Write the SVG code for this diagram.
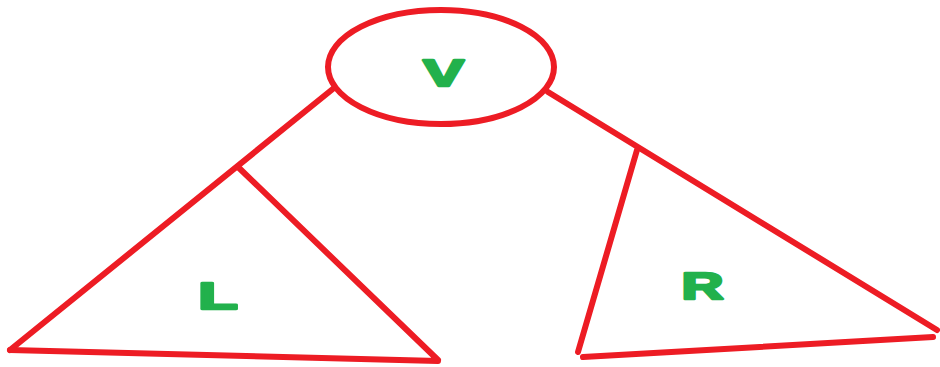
<svg xmlns="http://www.w3.org/2000/svg" width="940" height="367" viewBox="0 0 940 367">
<style>
.s{fill:none;stroke:#ED1C24;stroke-width:6;stroke-linecap:round;stroke-linejoin:round}
.t{font-family:"Liberation Sans",Arial,sans-serif;font-weight:bold;font-size:37px;fill:#22B14C;stroke:#22B14C;stroke-width:2.5;stroke-linejoin:round;text-anchor:middle}
</style>
<rect width="940" height="367" fill="#fff"/>
<g id="connectors">
<path class="s" d="M334,88 L10,350"/>
<path class="s" d="M548,92 L937,330"/>
</g>
<g id="V">
<ellipse class="s" cx="441" cy="67" rx="113" ry="57" stroke-width="7"/>
<text class="t" transform="translate(443.5,85.5) scale(1.65,1)">V</text>
</g>
<g id="L">
<path class="s" d="M238,167 L438,360 M10,350 L438,361"/>
<text class="t" transform="translate(218,308.5) scale(1.75,1)">L</text>
</g>
<g id="R">
<path class="s" d="M637,150 L578,352" stroke-width="8"/>
<path class="s" d="M583,357 L933,337"/>
<text class="t" transform="translate(702.5,298.5) scale(1.57,1)">R</text>
</g>
</svg>
